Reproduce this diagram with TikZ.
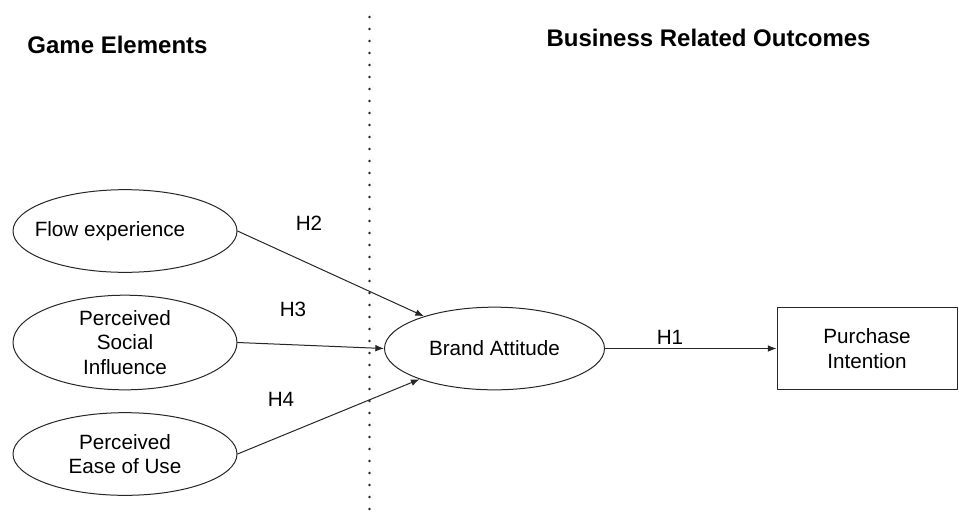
\documentclass[tikz,border=0pt]{standalone}
\usepackage{fontspec}
\setmainfont{Liberation Sans}
\usepackage{tikz}
\usetikzlibrary{arrows.meta,calc,positioning,shapes.geometric}
\tikzset{
  cnstr/.style={ellipse, draw, minimum width=168pt, minimum height=62pt, inner sep=1pt,
    align=center, font=\fontsize{15.5}{18.4}\selectfont},
  outbox/.style={rectangle, draw, minimum width=135pt, minimum height=62pt, inner sep=1pt,
    align=center, font=\fontsize{15.5}{18.4}\selectfont},
  hyp/.style={font=\fontsize{15.5}{18.4}\selectfont, inner sep=0pt},
  sectitle/.style={font=\bfseries\fontsize{18}{21}\selectfont, inner sep=0pt},
  link/.style={-{Latex[length=6.5pt,width=5pt]}},
  every picture/.style={line cap=round, line join=round}
}

\begin{document}
\begin{tikzpicture}[x=0.75pt, y=-0.75pt, line width=0.75pt, draw=black!85]
  \useasboundingbox (0,0) rectangle (959,526);
  \node[sectitle, anchor=base] (game) at (117.5,53) {Game Elements};
  \node[sectitle, anchor=base west] (business) at (546,46) {Business Related Outcomes};
  \coordinate (divtop) at (369.5,17);
  \coordinate (divbot) at (369.5,518);
  \draw[line width=2.2pt, dash pattern=on 0pt off 9pt] (divtop) -- (divbot);
  \node[cnstr] (flow) at (125,231) {\hspace*{-22.5pt}Flow experience};
  \node[cnstr] (social) at (125,342.5) {Perceived\\Social\\Influence};
  \node[cnstr] (ease) at (125,454) {Perceived\\Ease of Use};
  \node[cnstr, minimum width=165pt] (brand) at (494.5,348.5) {Brand Attitude};
  \node[outbox] (purchase) at (867,348.5) {Purchase\\Intention};
  \node[hyp] (h2) at (309,223) {H2};
  \node[hyp] (h3) at (293,309) {H3};
  \node[hyp] (h4) at (281,399) {H4};
  \node[hyp] (h1) at (670,337) {H1};
  \draw[link] (flow.east) -- (brand);
  \draw[link] (social.east) -- (brand.west);
  \draw[link] (ease.east) -- (brand);
  \draw[link] (brand.east) -- (purchase.west);
\end{tikzpicture}
\end{document}
